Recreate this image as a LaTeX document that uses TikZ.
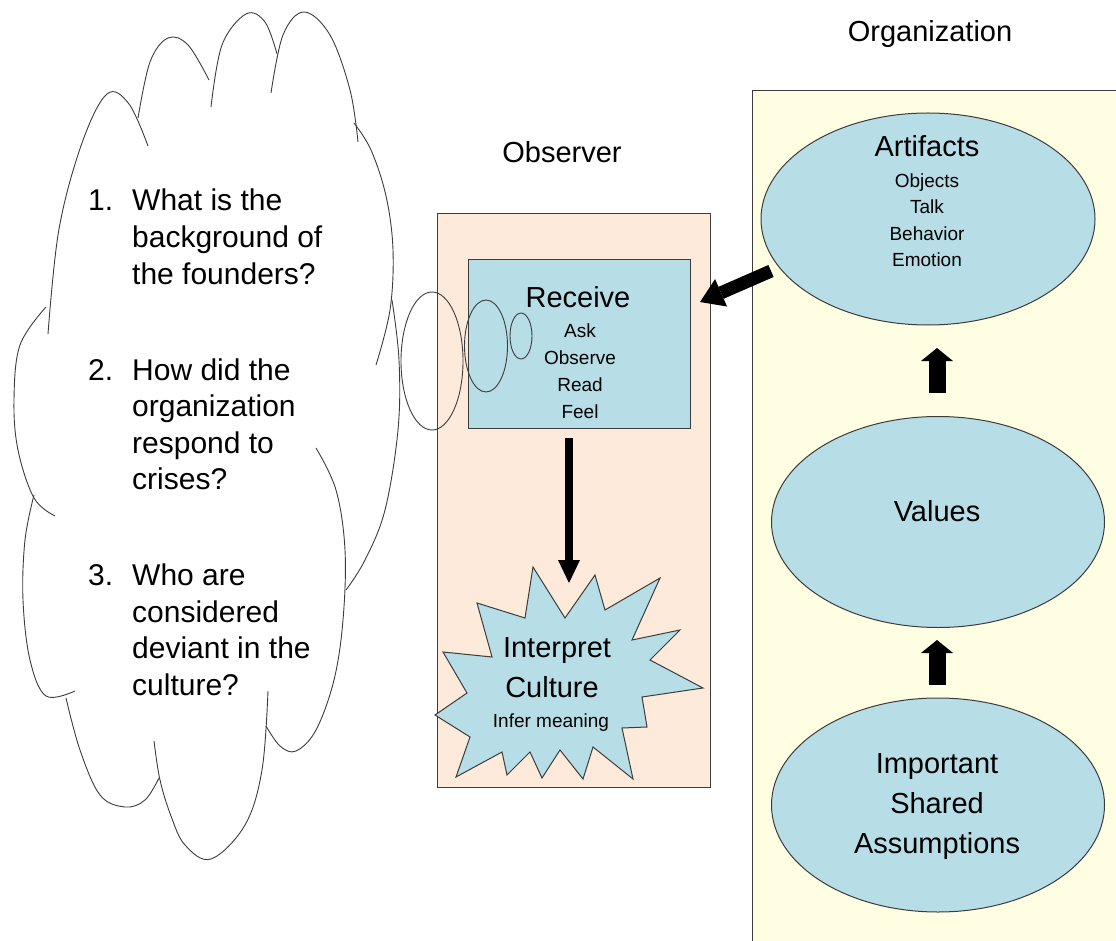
\documentclass[tikz,border=0pt]{standalone}
\usepackage{fontspec}
\setmainfont{Liberation Sans}
\usetikzlibrary{arrows.meta,shapes.geometric}

\definecolor{peach}{RGB}{253,234,218}
\definecolor{cream}{RGB}{255,254,226}
\definecolor{paleblue}{RGB}{183,221,230}
\definecolor{edge}{RGB}{60,60,60}

\begin{document}
\begin{tikzpicture}[x=1pt,y=-1pt,
  outline/.style={draw=edge,line width=1pt},
  bubble/.style={draw=edge,line width=0.9pt},
  oval/.style={outline,ellipse,fill=paleblue,inner sep=0pt},
  big/.style={font=\fontsize{29}{35}\selectfont,inner sep=0pt,anchor=base},
  small/.style={font=\fontsize{19}{26}\selectfont,inner sep=0pt,anchor=base},
  qtext/.style={font=\fontsize{30}{36}\selectfont,inner sep=0pt,anchor=base west},
  blockdown/.style={line width=8pt,-{Triangle[width=22pt,length=23pt,line width=0pt]}},
  blockdiag/.style={line width=13pt,-{Triangle[width=30pt,length=23pt,line width=0pt]}},
  blockup/.style={line width=17pt,-{Triangle[width=32pt,length=13pt,line width=0pt]}}]

\useasboundingbox (0,0) rectangle (1116,941);
\clip (0,0) rectangle (1116,941);

% ---------- panels ----------
\draw[outline,fill=cream] (752,91) rectangle (1130,960);
\draw[outline,fill=peach] (437,214) rectangle (710,787);

\node[big] (orgT) at (930,42) {Organization};
\node[big] (obsT) at (562,163) {Observer};

% ---------- observer side ----------
\node[outline,fill=paleblue,minimum width=222pt,minimum height=169pt,inner sep=0pt,anchor=north west] (rcv) at (468,259) {};
\node[big] (rcvT) at (578,307) {Receive};
\foreach \t/\yy [count=\i] in {Ask/337,Observe/364,Read/391,Feel/418}
  \node[small] (rcv\i) at (580,\yy) {\t};

% star burst
\path[outline,fill=paleblue] (533,567) -- (565,618) -- (595,575) -- (605,610) -- (660,578)
  -- (632,640) -- (680,630) -- (650,660) -- (703,688) -- (642,697) -- (647,727)
  -- (622,728) -- (633,779) -- (593,747) -- (583,779) -- (560,750) -- (542,778)
  -- (530,752) -- (507,775) -- (502,752) -- (456,777) -- (470,737) -- (435,715)
  -- (467,693) -- (443,652) -- (492,657) -- (477,603) -- (525,618) -- cycle;
\node[big] (starT1) at (557,657) {Interpret};
\node[big] (starT2) at (552,697) {Culture};
\node[small] (starT3) at (551,727) {Infer meaning};

% thought bubbles
\node[bubble,ellipse,minimum width=62pt,minimum height=138pt,inner sep=0pt] (b1) at (432,361) {};
\node[bubble,ellipse,minimum width=43pt,minimum height=92pt,inner sep=0pt] (b2) at (486,346) {};
\node[bubble,ellipse,minimum width=22pt,minimum height=46pt,inner sep=0pt] (b3) at (521,336) {};

% ---------- organization side ----------
\node[oval,minimum width=334pt,minimum height=212pt] (art) at (928,219) {};
\node[big] (artT) at (927,157) {Artifacts};
\foreach \t/\yy [count=\i] in {Objects/188,Talk/214,Behavior/241,Emotion/267}
  \node[small] (art\i) at (927,\yy) {\t};

\node[oval,minimum width=333pt,minimum height=211pt] (val) at (938,522) {};
\node[big] (valT) at (937,521) {Values};

\node[oval,minimum width=333pt,minimum height=214pt] (asm) at (938,805) {};
\node[big] (asm1) at (937,773) {Important};
\node[big] (asm2) at (937,813) {Shared};
\node[big] (asm3) at (937,853) {Assumptions};

% ---------- arrows ----------
\coordinate (dnA) at (569,438);
\coordinate (dnB) at (569,583);
\draw[blockdown] (dnA) -- (dnB);

\coordinate (dgA) at (771,271);
\coordinate (dgB) at (700,302);
\draw[blockdiag] (dgA) -- (dgB);

\coordinate (upA) at (937,393);
\coordinate (upB) at (937,348);
\draw[blockup] (upA) -- (upB);
\coordinate (upC) at (937,685);
\coordinate (upD) at (937,640);
\draw[blockup] (upC) -- (upD);

% ---------- cloud of questions ----------
\begin{scope}[bubble]
\draw plot[smooth,tension=0.6] coordinates {(48,334) (59,229) (82,143) (107,94) (129,104) (148,146)};
\draw plot[smooth,tension=0.6] coordinates {(138,118) (150,62) (168,38) (188,45) (209,80)};
\draw plot[smooth,tension=0.6] coordinates {(211,107) (222,45) (246,14) (265,22) (277,54)};
\draw plot[smooth,tension=0.6] coordinates {(271,93) (283,35) (304,12) (330,35) (350,90) (358,142)};
\draw plot[smooth,tension=0.6] coordinates {(354,123) (371,150) (386,196) (393,250) (390,310) (376,365)};
\draw plot[smooth,tension=0.6] coordinates {(392,300) (399,360) (398,430) (385,510) (365,560) (346,590)};
\draw plot[smooth,tension=0.6] coordinates {(316,448) (336,490) (345,550) (343,620) (334,680) (316,730) (296,751) (280,746) (266,726)};
\draw plot[smooth,tension=0.6] coordinates {(268,691) (262,770) (245,825) (211,859) (185,845) (171,816) (160,780) (154,741)};
\draw plot[smooth,tension=0.6] coordinates {(159,778) (145,800) (125,807) (100,795) (80,750) (66,698)};
\draw plot[smooth,tension=0.6] coordinates {(75,691) (46,696) (30,660) (23,600) (25,540) (34,495)};
\draw plot[smooth,tension=0.6] coordinates {(55,516) (34,498) (18,450) (14,400) (20,345) (46,307)};
\end{scope}

\foreach \n/\yy in {1/211,2/380,3/585.5}
  \node[qtext] (qn\n) at (88,\yy) {\n.};
\foreach \t/\yy [count=\i] in {What is the/211,background of/247.5,the founders?/284,
    How did the/380,organization/416.5,respond to/453,crises?/489.5,
    Who are/585.5,considered/622,deviant in the/658.5,culture?/695}
  \node[qtext] (ql\i) at (132,\yy) {\t};

\end{tikzpicture}
\end{document}
